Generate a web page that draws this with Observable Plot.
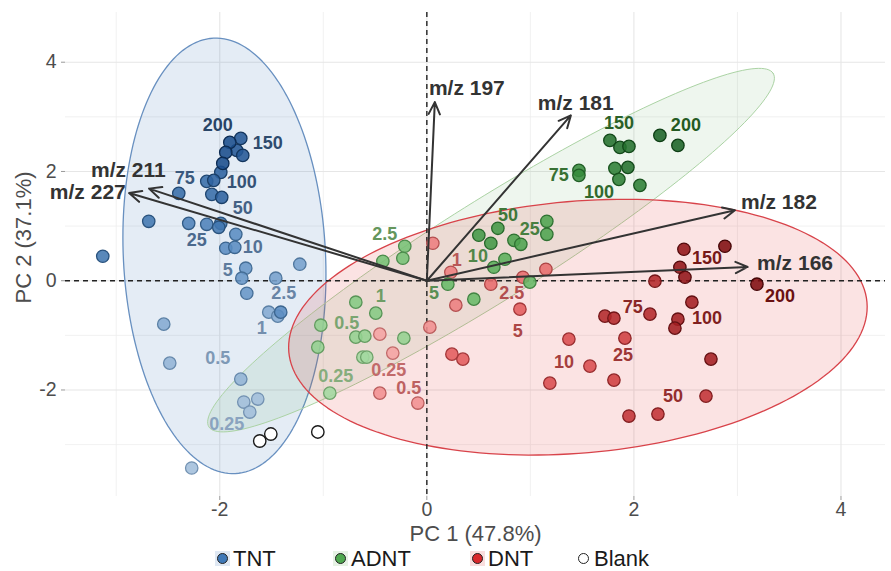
<!DOCTYPE html>
<html><head><meta charset="utf-8">
<script src="https://cdn.jsdelivr.net/npm/d3@7"></script>
<script src="https://cdn.jsdelivr.net/npm/@observablehq/plot@0.6"></script>
<style>
body{margin:0;background:#fff;font-family:"Liberation Sans",Arial,sans-serif;}
#wrap{width:891px;height:571px;position:relative;overflow:hidden;background:#fff}
#legend{position:absolute;left:0;top:546px;width:891px;height:25px}
.item{position:absolute;top:0;height:25px;display:flex;align-items:center;font-size:22px;color:#1a1a1a;white-space:nowrap}
.key{width:15px;height:15px;display:flex;align-items:center;justify-content:center;margin-right:3px}
.key span{width:9px;height:9px;border-radius:50%;border:1.3px solid #222;display:block}
</style></head><body><div id="wrap"><div id="chart"></div><div id="legend"></div></div>
<script>
// ---------- data ----------
const concLevels = [0.25, 0.5, 1, 2.5, 5, 10, 25, 50, 75, 100, 150, 200];
const concLabels = ["0.25", "0.5", "1", "2.5", "5", "10", "25", "50", "75", "100", "150", "200"];

const tntX = [-1.797,-1.903,-1.942,-1.836,-1.778,-1.971,-1.990,-2.058,-2.126,-2.077,-1.981,-2.396,-2.686,-2.300,-2.126,-1.990,-2.010,-1.845,-1.942,-1.855,-1.749,-1.787,-1.739,-1.459,-1.227,-1.527,-1.411,-1.440,-3.130,-2.541,-2.483,-1.797,-1.768,-1.633,-1.710,-2.271];
const tntY = [2.605,2.532,2.349,2.386,2.294,2.148,1.984,1.837,1.819,1.581,1.527,1.600,1.088,1.051,1.033,1.051,0.978,0.850,0.594,0.612,0.229,0.046,-0.229,0.046,0.302,-0.576,-0.576,-0.649,0.448,-0.795,-1.508,-1.801,-2.221,-2.166,-2.404,-3.428];
const tntConc = [150,200,200,150,150,200,100,100,75,75,100,75,50,25,25,50,50,10,10,10,5,5,5,2.5,2.5,1,10,1,50,1,0.5,0.5,0.25,0.25,0.25,0.25];

const adntX = [2.251,2.425,1.768,1.865,1.952,1.816,1.942,1.855,2.058,1.469,1.469,0.502,0.686,0.618,0.841,0.908,1.159,1.159,0.754,0.647,0.203,0.454,0.995,-0.213,-0.232,-0.425,-0.686,-0.493,-1.024,-1.053,-0.686,-0.599,-0.222,-0.618,-0.580,-0.937];
const adntY = [2.660,2.477,2.569,2.441,2.459,2.057,2.075,1.856,1.746,2.020,1.929,0.832,0.960,0.686,0.740,0.667,1.088,0.850,0.393,0.247,-0.064,-0.338,-0.027,0.631,0.411,0.356,-0.393,-0.594,-0.814,-1.216,-1.033,-1.015,-1.051,-1.399,-1.399,-2.057];
const adntConc = [200,200,150,150,150,100,150,100,100,75,75,50,50,50,25,25,25,25,10,10,5,5,5,2.5,2.5,2.5,1,1,0.5,0.5,0.5,0.5,0.5,0.25,0.25,0.25];

const dntX = [3.188,2.879,2.483,2.444,2.493,2.560,2.744,2.425,2.396,1.720,1.807,2.155,2.203,1.952,2.232,2.696,1.913,1.807,1.372,1.575,1.188,0.899,0.348,0.242,0.618,0.928,1.150,0.058,0.232,0.280,0.029,-0.087,-0.454,-0.454,-0.329];
const dntY = [-0.064,0.631,0.576,0.247,0.064,-0.393,-1.435,-0.704,-0.868,-0.649,-0.686,-0.612,-0.009,-2.477,-2.441,-2.112,-1.051,-1.819,-1.069,-1.563,-1.874,-0.521,-1.435,-1.344,-0.064,0.064,0.210,0.686,0.155,-0.448,-0.850,-2.239,-2.057,-0.978,-1.325];
const dntConc = [200,200,150,150,150,100,100,100,100,75,75,75,75,50,50,50,25,25,10,10,10,5,5,5,2.5,2.5,2.5,1,1,1,0.5,0.5,0.5,0.25,0.25];

const blankX = [-1.614,-1.507,-1.053];
const blankY = [-2.934,-2.806,-2.769];

// concentration label positions (same order as concLabels)
const tntLabX = [-1.932,-2.019,-1.594,-1.382,-1.923,-1.681,-2.222,-1.778,-2.338,-1.787,-1.536,-2.019];
const tntLabY = [-2.623,-1.417,-0.868,-0.229,0.192,0.612,0.740,1.325,1.874,1.801,2.514,2.843];
const adntLabX = [-0.879,-0.773,-0.444,-0.406,0.068,0.493,0.995,0.783,1.275,1.662,1.855,2.502];
const adntLabY = [-1.746,-0.777,-0.283,0.850,-0.229,0.448,0.941,1.197,1.929,1.618,2.879,2.843];
const dntLabX = [-0.367,-0.174,0.290,0.821,0.879,1.324,1.894,2.377,1.990,2.705,2.705,3.411];
const dntLabY = [-1.636,-1.965,0.375,-0.229,-0.923,-1.490,-1.362,-2.111,-0.484,-0.686,0.411,-0.283];

// loadings
const loadNames = ["m/z 197","m/z 181","m/z 182","m/z 166","m/z 211","m/z 227"];
const loadX = [0.077,1.391,2.976,3.099,-2.683,-2.876];
const loadY = [3.27,3.026,1.289,0.252,1.686,1.605];
const loadLabX = [0.02,1.072,3.034,3.19,-2.522,-2.908];
const loadLabY = [3.52,3.25,1.44,0.314,2.02,1.618];
const loadAnchor = ["start","start","start","start","end","end"];

// confidence ellipses: centre and two conjugate semi-axis vectors (data units)
const ellGroups = ["TNT","ADNT","DNT"];
const ellCx = [-1.955, 0.62, 1.459];
const ellCy = [0.455, 0.56, -0.85];
const ellAx = [-0.105, 2.725, 2.792];
const ellAy = [3.985, 3.236, 0.457];
const ellBx = [0.975, 0.257, 0.105];
const ellBy = [0.091, -0.775, -2.296];

const legendNames = ["TNT","ADNT","DNT","Blank"];

// ---------- styles ----------
const pointFill = {TNT:["#a2bedb","#4f88c2","#1a4d8c"], ADNT:["#a3d8a0","#4fb04f","#1b6327"], DNT:["#f5a3a3","#e23c3e","#800c0f"]};
const pointStroke = {TNT:["#7392b2","#31618f","#0c2b52"], ADNT:["#6ea36a","#2f7a32","#0c3d13"], DNT:["#c26a6a","#9e2225","#430506"]};
const labelColor = {TNT:["#8aa3bf","#4a6a90","#284466"], ADNT:["#86ad7c","#46823f","#245a22"], DNT:["#c26a6a","#a63838","#6a1111"]};
const ellFill = {TNT:"#3f75b5", ADNT:"#5aa55a", DNT:"#e03c3c"};
const ellFillOpacity = {TNT:0.14, ADNT:0.10, DNT:0.14};
const ellStroke = {TNT:"#6890c0", ADNT:"#abd3a4", DNT:"#d8434a"};
const legendKeyBg = {TNT:"#dfe8f3", ADNT:"#e6f2e4", DNT:"#f9dede", Blank:"transparent"};
const legendDot = {TNT:"#3e78b7", ADNT:"#4fa84f", DNT:"#d9282c", Blank:"#ffffff"};

const tOf = c => concLevels.indexOf(c) / (concLevels.length - 1);
const ramp = (arr, t) => d3.interpolateRgbBasis(arr)(t);

// ---------- tables ----------
const points = [];
[["TNT", tntX, tntY, tntConc], ["ADNT", adntX, adntY, adntConc], ["DNT", dntX, dntY, dntConc]].forEach(([g, xs, ys, cs]) => {
  xs.forEach((x, i) => points.push({group: g, x, y: ys[i], conc: cs[i]}));
});
const blanks = blankX.map((x, i) => ({x, y: blankY[i]}));

const labels = [];
[["TNT", tntLabX, tntLabY], ["ADNT", adntLabX, adntLabY], ["DNT", dntLabX, dntLabY]].forEach(([g, xs, ys]) => {
  xs.forEach((x, i) => labels.push({group: g, x, y: ys[i], text: concLabels[i], conc: concLevels[i]}));
});

const loads = loadNames.map((n, i) => ({name: n, x: loadX[i], y: loadY[i], lx: loadLabX[i], ly: loadLabY[i], anchor: loadAnchor[i]}));

const ellipses = {};
ellGroups.forEach((g, i) => {
  const pts = [];
  for (let k = 0; k <= 180; k++) {
    const t = (k / 180) * 2 * Math.PI;
    pts.push({x: ellCx[i] + Math.cos(t) * ellAx[i] + Math.sin(t) * ellBx[i],
              y: ellCy[i] + Math.cos(t) * ellAy[i] + Math.sin(t) * ellBy[i]});
  }
  ellipses[g] = pts;
});

const majorTicks = [-2, 0, 2, 4];
const minorTicks = [-3, -1, 1, 3];
const fmt = d => String(d);

const chart = Plot.plot({
  width: 891, height: 546,
  marginLeft: 65, marginRight: 6, marginTop: 12, marginBottom: 50,
  style: {fontFamily: '"Liberation Sans", Arial, sans-serif', background: "#fff", overflow: "visible"},
  x: {domain: [-3.49, 4.43]},
  y: {domain: [-3.95, 4.91]},
  marks: [
    Plot.gridX({ticks: minorTicks, stroke: "#eeeeee", strokeOpacity: 1, strokeWidth: 0.8}),
    Plot.gridY({ticks: minorTicks, stroke: "#eeeeee", strokeOpacity: 1, strokeWidth: 0.8}),
    Plot.gridX({ticks: majorTicks, stroke: "#e6e6e6", strokeOpacity: 1, strokeWidth: 1.1}),
    Plot.gridY({ticks: majorTicks, stroke: "#e6e6e6", strokeOpacity: 1, strokeWidth: 1.1}),
    Plot.axisX({ticks: majorTicks, tickFormat: fmt, tickSize: 4, tickPadding: 2, fontSize: 19.5, label: null, stroke: "#999", fill: "#4d4d4d"}),
    Plot.axisY({ticks: majorTicks, tickFormat: fmt, tickSize: 4, tickPadding: 5, fontSize: 19.5, label: null, stroke: "#999", fill: "#4d4d4d"}),
    ...ellGroups.map(g => Plot.line(ellipses[g], {x: "x", y: "y", fill: ellFill[g], fillOpacity: ellFillOpacity[g], stroke: ellStroke[g], strokeWidth: g === "ADNT" ? 1 : 1.3})),
    Plot.ruleX([0], {stroke: "#222", strokeDasharray: "5,4", strokeWidth: 1.4}),
    Plot.ruleY([0], {stroke: "#222", strokeDasharray: "5,4", strokeWidth: 1.4}),
    Plot.dot(points, {x: "x", y: "y", r: 6.2,
      fill: d => ramp(pointFill[d.group], tOf(d.conc)), fillOpacity: 0.88,
      stroke: d => ramp(pointStroke[d.group], tOf(d.conc)), strokeWidth: 1.3, sort: d => d.conc}),
    Plot.dot(blanks, {x: "x", y: "y", r: 6.2, fill: "#fff", stroke: "#1a1a1a", strokeWidth: 1.4}),
    Plot.text(labels, {x: "x", y: "y", text: "text", fontSize: 18, fontWeight: "bold",
      fill: d => ramp(labelColor[d.group], tOf(d.conc))}),
    Plot.arrow(loads, {x1: () => 0, y1: () => 0, x2: "x", y2: "y", stroke: "#333", strokeWidth: 2, headLength: 10, headAngle: 50}),
    Plot.text(loads.filter(d => d.anchor === "start"), {x: "lx", y: "ly", text: "name", textAnchor: "start", fontSize: 21, fontWeight: "bold", fill: "#333"}),
    Plot.text(loads.filter(d => d.anchor === "end"), {x: "lx", y: "ly", text: "name", textAnchor: "end", fontSize: 21, fontWeight: "bold", fill: "#333"}),
    Plot.text(["PC 1 (47.8%)"], {text: d => d, frameAnchor: "bottom", textAnchor: "middle", lineAnchor: "middle", dy: 37, fontSize: 22, fill: "#4d4d4d"}),
    Plot.text(["PC 2 (37.1%)"], {text: d => d, frameAnchor: "left", textAnchor: "middle", lineAnchor: "middle", rotate: -90, dx: -42, dy: -17, fontSize: 22, fill: "#4d4d4d"})
  ]
});
document.getElementById("chart").appendChild(chart);

// ---------- legend ----------
const legendLeft = [215, 333, 470, 576];
const legend = document.getElementById("legend");
legendNames.forEach((n, i) => {
  const item = document.createElement("div");
  item.className = "item";
  item.style.left = legendLeft[i] + "px";
  const key = document.createElement("div");
  key.className = "key";
  key.style.background = legendKeyBg[n];
  const dot = document.createElement("span");
  dot.style.background = legendDot[n];
  key.appendChild(dot);
  item.appendChild(key);
  const t = document.createElement("span");
  t.textContent = n;
  item.appendChild(t);
  legend.appendChild(item);
});
</script></body></html>
